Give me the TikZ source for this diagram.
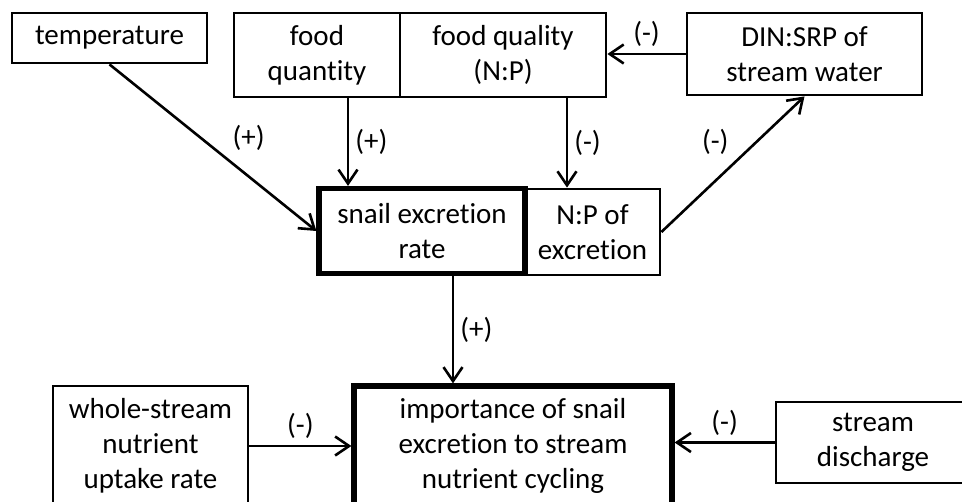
\documentclass[tikz,border=0pt]{standalone}
\usepackage{fontspec}
\setmainfont{Carlito}[Ligatures=NoCommon]
\usetikzlibrary{arrows.meta}

\begin{document}
\begin{tikzpicture}[
  x=0.5pt, y=-0.5pt,
  font=\fontsize{14.5pt}{17.5pt}\selectfont,
  box/.style={draw=black, line width=1.4pt, align=center, inner sep=2pt},
  keybox/.style={box, line width=2.6pt},
  link/.style={-{Straight Barb[length=7pt,width=9.5pt]}, line width=1.3pt},
  sign/.style={inner sep=3pt}
]

\useasboundingbox (0,0) rectangle (962,502);
\clip (0,0) rectangle (962,502);

% Drivers along the top row.
\node[box, minimum width=97.5pt, minimum height=25pt] (temp) at (109.5,38) {temperature};
\node[box, minimum width=83pt, minimum height=42pt] (foodqty) at (317,55) {food\\quantity};
\node[box, minimum width=103pt, minimum height=42pt] (foodqual) at (503,55) {food quality\\(N:P)};
\node[box, minimum width=117.5pt, minimum height=41pt] (din) at (804.5,54) {DIN:SRP of\\stream water};

% Excretion pair in the middle.
\node[keybox, minimum width=103pt, minimum height=42.5pt] (snail) at (422,231) {snail excretion\\rate};
\node[box, minimum width=67.5pt, minimum height=43pt] (npex) at (592.5,232) {N:P of\\excretion};

% Bottom row, running off the lower and right edges.
\node[box, minimum width=97.5pt, minimum height=60pt] (whole) at (150.5,446) {whole-stream\\nutrient\\uptake rate};
\node[keybox, minimum width=159pt, minimum height=60pt] (import) at (513,446) {importance of snail\\excretion to stream\\nutrient cycling};
\node[box, minimum width=97pt, minimum height=40.5pt] (disch) at (873,442.5) {stream\\discharge};

% Entry points of the vertical links.
\coordinate (qtyout) at ([xshift=15.5pt]foodqty.south);
\coordinate (npexin) at ([xshift=-12.75pt]npex.north);
\coordinate (snailout) at ([xshift=15.5pt]snail.south);

\draw[link] (temp.south) -- node[sign, pos=0.56, above right] {(+)} (snail.west);
\draw[link] (qtyout) -- node[sign, right] {(+)} (qtyout |- snail.north);
\draw[link] (npexin |- foodqual.south) -- node[sign, right] {(-)} (npexin);
\draw[link] (npex.east) -- node[sign, pos=0.52, above left] {(-)} (din.south);
\draw[link] (din.west) -- node[sign, above] {(-)} (din.west -| foodqual.east);
\draw[link] (snailout) -- node[sign, right] {(+)} (snailout |- import.north);
\draw[link] (whole.east) -- node[sign, above] {(-)} (whole.east -| import.west);
\draw[link] (disch.west) -- node[sign, above] {(-)} (disch.west -| import.east);

\end{tikzpicture}
\end{document}
